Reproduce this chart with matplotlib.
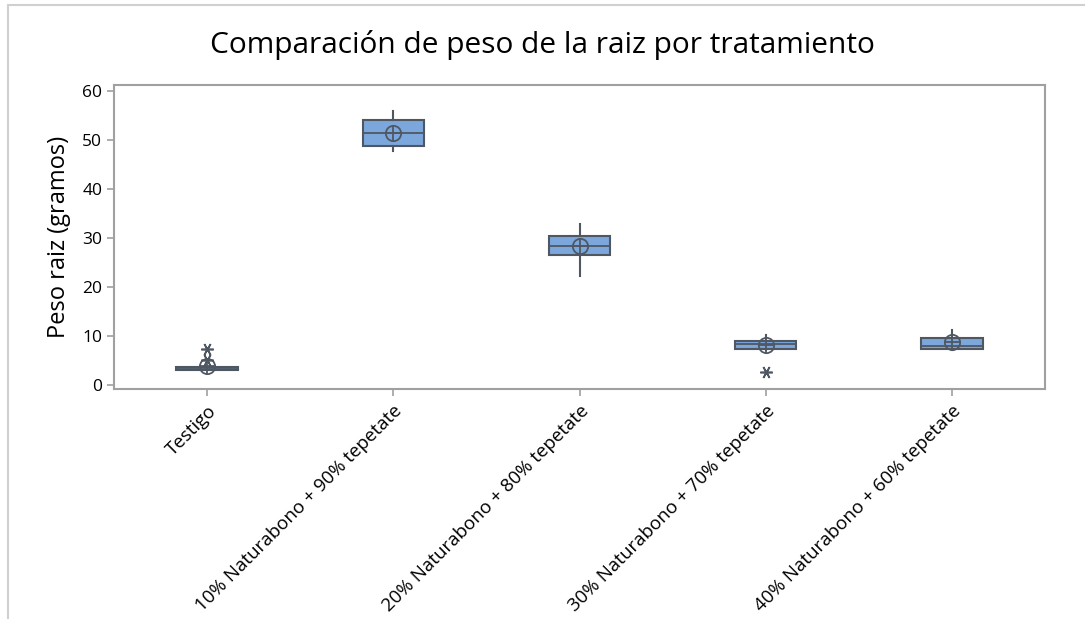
import matplotlib
matplotlib.use('Agg')
import matplotlib.pyplot as plt
from matplotlib.patches import Rectangle

plt.rcParams['font.family'] = ['Open Sans', 'DejaVu Sans']

# datos (estadisticos de cada caja)
tratamientos = ['Testigo',
                '10% Naturabono + 90% tepetate',
                '20% Naturabono + 80% tepetate',
                '30% Naturabono + 70% tepetate',
                '40% Naturabono + 60% tepetate']
bigote_inf = [3.0, 47.9, 22.3, 7.1, 7.1]
q1 = [3.0, 48.8, 26.6, 7.3, 7.3]
mediana = [3.3, 51.5, 28.5, 8.3, 7.9]
q3 = [3.7, 54.1, 30.5, 9.0, 9.6]
bigote_sup = [3.7, 55.9, 33.0, 10.2, 11.2]
media = [3.9, 51.5, 28.4, 8.1, 8.8]
atipicos = [[7.4, 5.1], [], [], [2.7], []]

caja = '#7BA7DC'
borde = '#4F5862'
gris = '#A0A0A0'

fig = plt.figure(figsize=(10.85, 6.19), dpi=100)
ax = fig.add_axes([114 / 1085, 1 - 389 / 619, (1045 - 114) / 1085, (389 - 85) / 619])

stats = []
for i in range(len(tratamientos)):
    stats.append({'whislo': bigote_inf[i], 'q1': q1[i], 'med': mediana[i],
                  'q3': q3[i], 'whishi': bigote_sup[i], 'fliers': atipicos[i]})

ax.bxp(stats, positions=range(len(tratamientos)), widths=0.33, patch_artist=True,
       showcaps=False, showfliers=True,
       boxprops=dict(facecolor=caja, edgecolor=borde, linewidth=1.5),
       medianprops=dict(color=borde, linewidth=1.3),
       whiskerprops=dict(color=borde, linewidth=1.5),
       flierprops=dict(marker=(6, 2, 90), markeredgecolor=borde, markersize=9,
                       markeredgewidth=1.2, linestyle='none'))

# simbolo de la media (circulo con cruz)
ax.plot(range(len(media)), media, 'o', markersize=11, markerfacecolor='none',
        markeredgecolor=borde, markeredgewidth=1.3, zorder=5)
ax.plot(range(len(media)), media, '+', markersize=11, markeredgecolor=borde,
        markeredgewidth=1.3, zorder=5)

ax.set_xlim(-0.5, 4.5)
ax.set_ylim(-0.8, 61.3)
ax.set_yticks([0, 10, 20, 30, 40, 50, 60])
ax.set_xticks(range(len(tratamientos)))
ax.set_xticklabels(tratamientos, rotation=45, ha='right', rotation_mode='anchor',
                   fontsize=13.5)
ax.tick_params(axis='y', labelsize=12.5, color=gris, length=5, width=1.2)
ax.tick_params(axis='x', color=gris, length=5, width=1.2, pad=4)
for s in ax.spines.values():
    s.set_color(gris)
    s.set_linewidth(1.5)

ax.set_ylabel('Peso raiz (gramos)', fontsize=17, labelpad=8)
fig.text(542 / 1085, 1 - 45 / 619, 'Comparación de peso de la raiz por tratamiento',
         ha='center', va='center', fontsize=21.5)

# marco exterior
fig.patches.append(Rectangle((8 / 1085, -0.1), 1.1, 1 - 5 / 619 + 0.1,
                             transform=fig.transFigure, fill=False,
                             edgecolor='#D0D0D0', linewidth=1.5))

fig.savefig('out.png', dpi=100)
